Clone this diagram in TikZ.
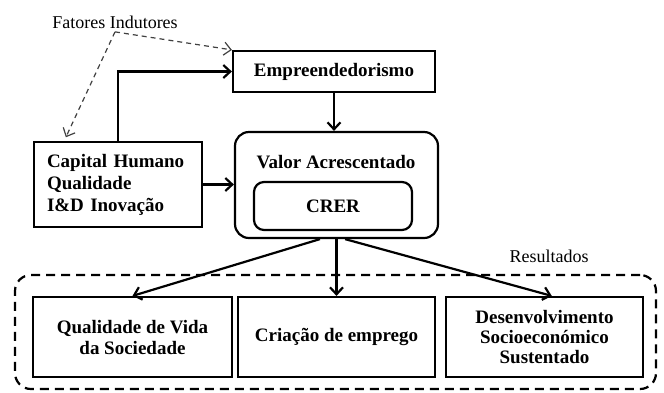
\documentclass[tikz,border=0pt]{standalone}
\usepackage{fontspec}
\setmainfont{Liberation Serif}
\usetikzlibrary{arrows.meta, positioning}
\tikzset{>={Straight Barb[length=7pt,width=13pt]}}
\tikzset{
  box/.style={draw, line width=2.2pt, font=\bfseries\fontsize{19}{21}\selectfont, align=center, inner sep=0pt},
  roundbox/.style={box, rounded corners=14pt},
  flow/.style={->, line width=2.2pt},
  hint/.style={->, dashed, dash pattern=on 5pt off 4pt, gray!50!black, line width=1.2pt},
  note/.style={font=\fontsize{18}{20}\selectfont}
}

\begin{document}
\begin{tikzpicture}[x=1pt, y=-1pt]
  \useasboundingbox (0,0) rectangle (664,392);
  % upper part
  \node[note] (fatores) at (115,22) {Fatores Indutores};
  \node[box, minimum width=202pt, minimum height=41pt] (empre) at (334,71.5) {Empreendedorismo};
  \node[box, minimum width=168pt, minimum height=85pt, text width=142pt, align=left,
        font=\bfseries\fontsize{19}{22}\selectfont] (capital) at (118,184.5) {Capital Humano\\Qualidade\\I\&D Inovação};
  \node[roundbox, minimum width=203pt, minimum height=106pt] (valor) at (336.5,185) {};
  \node[font=\bfseries\fontsize{19}{21}\selectfont] (valortitle) at (336,162) {Valor Acrescentado};
  \node[roundbox, rounded corners=10pt, minimum width=158pt, minimum height=48pt] (crer) at (333,206) {CRER};
  % lower part
  \node[draw, dashed, line width=2.2pt, rounded corners=16pt, dash pattern=on 9pt off 6pt,
        minimum width=641pt, minimum height=114pt] (results) at (335.5,332) {};
  \node[note] (resultados) at (549,256) {Resultados};
  \node[box, minimum width=199pt, minimum height=80pt] (vida) at (132.5,337) {Qualidade de Vida\\da Sociedade};
  \node[box, minimum width=197pt, minimum height=80pt] (emprego) at (336.5,337) {Criação de emprego};
  \node[box, minimum width=197pt, minimum height=80pt, font=\bfseries\fontsize{19}{20}\selectfont] (desenv) at (544.5,337) {Desenvolvimento\\Socioeconómico\\Sustentado};

  \draw[hint] (fatores.south) -- (empre.north west);
  \draw[hint, shorten >=4pt] (fatores.south) -- (capital.141);
  \draw[flow] (capital.north) |- (empre.west);
  \draw[flow] (empre.south) -- (empre.south |- valor.north);
  \draw[flow] (capital.east) -- (capital.east -| valor.west);
  \draw[flow] (valor.253) -- (vida.north);
  \draw[flow] (valor.south) -- (emprego.north);
  \draw[flow] (valor.279) -- (desenv.80);
\end{tikzpicture}
\end{document}
